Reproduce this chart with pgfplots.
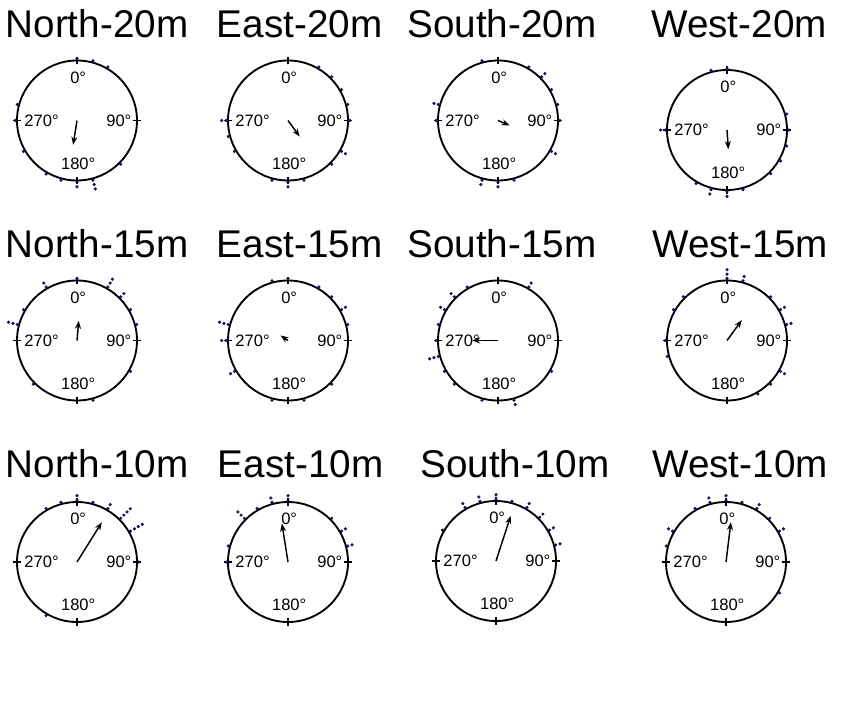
\documentclass[border=0pt]{standalone}
\usepackage{pgfplots}
\pgfplotsset{compat=1.18}
\usepackage{pgfplotstable}
\usepackage{fontspec}
\setmainfont{Liberation Sans}
\usetikzlibrary{arrows.meta}

\definecolor{dotblue}{RGB}{20,20,90}

% a = direction in degrees, clockwise from north; r = radius (1 = circle)
% stacked observations sit further out
\pgfplotstableread{
a r
0 1.03
15 1.03
30 1.03
135 1.03
165 1.03
165 1.105
165 1.18
180 1.03
180 1.105
195 1.03
210 1.03
240 1.03
270 1.03
285 1.03
}\dNa
\pgfplotstableread{
a r
0 0
189 0.41
}\mNa

\pgfplotstableread{
a r
30 1.03
45 1.03
60 1.03
75 1.03
90 1.03
120 1.03
120 1.105
135 1.03
165 1.03
180 1.03
180 1.105
195 1.03
240 1.03
255 1.03
270 1.03
270 1.105
}\dEa
\pgfplotstableread{
a r
0 0
144 0.33
}\mEa

\pgfplotstableread{
a r
345 1.03
30 1.03
45 1.03
45 1.105
60 1.03
75 1.03
90 1.03
120 1.03
120 1.105
165 1.03
180 1.03
180 1.105
195 1.03
195 1.105
270 1.03
285 1.03
285 1.105
}\dSa
\pgfplotstableread{
a r
0 0
113 0.21
}\mSa

\pgfplotstableread{
a r
345 1.03
0 1.03
75 1.03
90 1.03
105 1.03
120 1.03
135 1.03
165 1.03
180 1.03
180 1.105
195 1.03
195 1.105
210 1.03
270 1.03
270 1.105
}\dWa
\pgfplotstableread{
a r
0 0
176 0.32
}\mWa

\pgfplotstableread{
a r
330 1.03
330 1.105
0 1.03
30 1.03
30 1.105
30 1.18
45 1.03
45 1.105
60 1.03
75 1.03
120 1.03
165 1.03
225 1.03
300 1.03
285 1.03
285 1.105
285 1.18
}\dNb
\pgfplotstableread{
a r
0 0
5 0.33
}\mNb

\pgfplotstableread{
a r
345 1.03
0 1.03
30 1.03
45 1.03
60 1.03
60 1.105
75 1.03
135 1.03
165 1.03
195 1.03
240 1.03
240 1.105
270 1.03
270 1.105
285 1.03
285 1.105
285 1.18
}\dEb
\pgfplotstableread{
a r
0 0
304 0.15
}\mEb

\pgfplotstableread{
a r
330 1.03
315 1.03
315 1.105
300 1.03
300 1.105
285 1.03
270 1.03
255 1.03
255 1.105
255 1.18
240 1.03
225 1.03
195 1.03
165 1.03
165 1.105
120 1.03
30 1.03
30 1.105
}\dSb
\pgfplotstableread{
a r
0 0
270 0.43
}\mSb

\pgfplotstableread{
a r
0 1.03
0 1.105
0 1.18
15 1.03
15 1.105
45 1.03
60 1.03
60 1.105
75 1.03
75 1.105
120 1.03
120 1.105
135 1.03
150 1.03
315 1.03
300 1.03
270 1.03
255 1.03
}\dWb
\pgfplotstableread{
a r
0 0
36 0.42
}\mWb

\pgfplotstableread{
a r
330 1.03
345 1.03
0 1.03
0 1.105
15 1.03
30 1.03
30 1.105
45 1.03
45 1.105
45 1.18
45 1.255
60 1.03
60 1.105
60 1.18
60 1.255
90 1.03
210 1.03
}\dNc
\pgfplotstableread{
a r
0 0
32 0.78
}\mNc

\pgfplotstableread{
a r
0 1.03
0 1.105
345 1.03
345 1.105
330 1.03
315 1.03
315 1.105
315 1.18
285 1.03
270 1.03
45 1.03
60 1.03
60 1.105
75 1.03
75 1.105
}\dEc
\pgfplotstableread{
a r
0 0
351 0.65
}\mEc

\pgfplotstableread{
a r
0 1.03
0 1.105
345 1.03
345 1.105
330 1.03
330 1.105
300 1.03
15 1.03
30 1.03
30 1.105
45 1.03
45 1.105
60 1.03
60 1.105
75 1.03
75 1.105
}\dSc
\pgfplotstableread{
a r
0 0
18 0.79
}\mSc

\pgfplotstableread{
a r
0 1.03
0 1.105
345 1.03
345 1.105
330 1.03
300 1.03
300 1.105
285 1.03
15 1.03
30 1.03
30 1.105
45 1.03
60 1.03
60 1.105
120 1.03
}\dWc
\pgfplotstableread{
a r
0 0
7 0.67
}\mWc

\newcommand{\lab}{\fontsize{12.4}{13}\selectfont}
\newcommand{\ttl}{\fontsize{29}{31}\selectfont}

% #1,#2 centre of the circle in pixels, #3 observations, #4 mean vector
\newcommand{\panel}[4]{%
  \begin{axis}[at={({#1*0.75pt},{-#2*0.75pt})}, anchor=center,
    scale only axis, width=112.5pt, height=112.5pt,
    xmin=-1.25, xmax=1.25, ymin=-1.25, ymax=1.25,
    hide axis, clip=false]
    \draw[line width=1.4pt] (axis cs:0,0) circle[radius=45pt];
    \draw[line width=1.4pt] (axis cs:0,0.935) -- (axis cs:0,1.065);
    \draw[line width=1.4pt] (axis cs:0.935,0) -- (axis cs:1.065,0);
    \draw[line width=1.4pt] (axis cs:0,-0.935) -- (axis cs:0,-1.065);
    \draw[line width=1.4pt] (axis cs:-0.935,0) -- (axis cs:-1.065,0);
    \node[font=\lab, inner sep=0pt] at (axis cs:0.02,0.715) {0°};
    \node[font=\lab, inner sep=0pt] at (axis cs:0.02,-0.72) {180°};
    \node[font=\lab, inner sep=0pt, anchor=west] at (axis cs:-0.88,0) {270°};
    \node[font=\lab, inner sep=0pt, anchor=east] at (axis cs:0.91,0) {90°};
    \addplot[only marks, mark=*, mark size=1pt, color=dotblue]
      table[x expr={\thisrow{r}*sin(\thisrow{a})}, y expr={\thisrow{r}*cos(\thisrow{a})}] {#3};
    \addplot[black, line width=1.1pt, -{Stealth[length=6pt,width=4.5pt]}]
      table[x expr={\thisrow{r}*sin(\thisrow{a})}, y expr={\thisrow{r}*cos(\thisrow{a})}] {#4};
  \end{axis}}

\newcommand{\ttlnode}[3]{\node[font=\ttl, anchor=base, inner sep=0pt] at ({#1*0.75pt},{-#2*0.75pt}) {#3};}

\begin{document}
\begin{tikzpicture}
\path[use as bounding box] (0,0) rectangle ({859*0.75pt},{-703*0.75pt});

\ttlnode{97}{37.5}{North-20m}
\ttlnode{299.5}{37.5}{East-20m}
\ttlnode{502}{37.5}{South-20m}
\ttlnode{739}{37.5}{West-20m}
\ttlnode{97}{257}{North-15m}
\ttlnode{299.5}{257}{East-15m}
\ttlnode{502}{257}{South-15m}
\ttlnode{740}{257}{West-15m}
\ttlnode{97}{477}{North-10m}
\ttlnode{300.5}{477}{East-10m}
\ttlnode{515}{477}{South-10m}
\ttlnode{740}{477}{West-10m}

\panel{77}{120.5}{\dNa}{\mNa}
\panel{288}{120.5}{\dEa}{\mEa}
\panel{498}{120.5}{\dSa}{\mSa}
\panel{727}{130}{\dWa}{\mWa}
\panel{77}{340.5}{\dNb}{\mNb}
\panel{288}{340.5}{\dEb}{\mEb}
\panel{498}{340.5}{\dSb}{\mSb}
\panel{727}{340.5}{\dWb}{\mWb}
\panel{77}{562}{\dNc}{\mNc}
\panel{288}{562}{\dEc}{\mEc}
\panel{496}{561}{\dSc}{\mSc}
\panel{726}{562}{\dWc}{\mWc}
\end{tikzpicture}
\end{document}
